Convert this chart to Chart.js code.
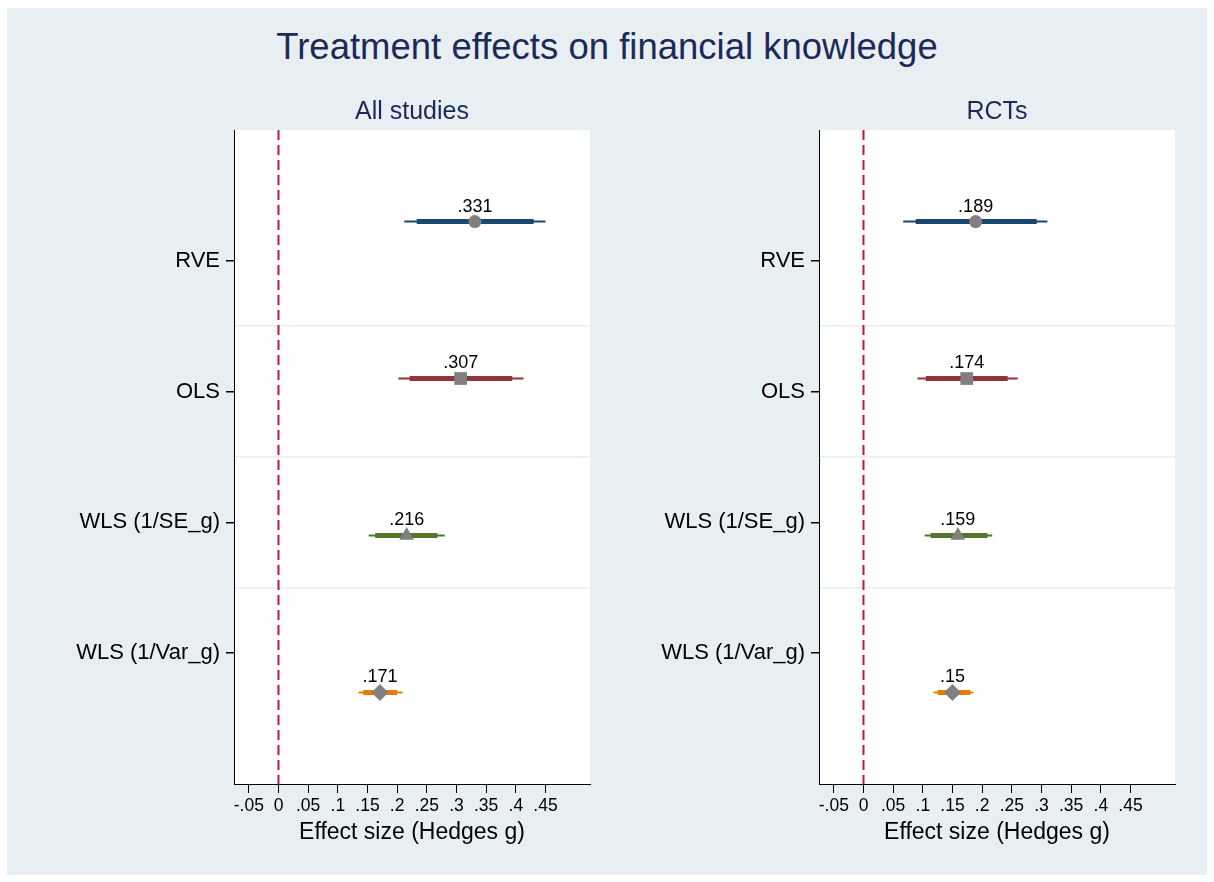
<!DOCTYPE html>
<html>
<head>
<meta charset="utf-8">
<script src="https://cdn.jsdelivr.net/npm/chart.js@4"></script>
<style>
  html, body { margin: 0; padding: 0; background: #fff; }
  #frame { position: absolute; left: 7px; top: 8px; width: 1200px; height: 867px; background: #e8eff2; }
  #title { position: absolute; left: 0; top: 26px; width: 1214px; text-align: center;
           font: 36.5px "Liberation Sans", Arial, sans-serif; color: #1c2a57; }
  .panel { position: absolute; top: 0; width: 607px; height: 882px; }
</style>
</head>
<body>
<div id="frame"></div>
<div id="title">Treatment effects on financial knowledge</div>
<div class="panel" style="left:0"><canvas id="allChart"></canvas></div>
<div class="panel" style="left:607px"><canvas id="rctChart"></canvas></div>

<script>
// estimation methods (rows)
const methods = ['RVE', 'OLS', 'WLS (1/SE_g)', 'WLS (1/Var_g)'];

// All studies
const allEst  = [0.331, 0.307, 0.216, 0.171];
const allLo95 = [0.212, 0.202, 0.152, 0.135];
const allHi95 = [0.450, 0.413, 0.280, 0.209];
const allLo90 = [0.233, 0.221, 0.163, 0.143];
const allHi90 = [0.430, 0.394, 0.268, 0.200];

// RCTs only
const rctEst  = [0.189, 0.174, 0.159, 0.150];
const rctLo95 = [0.067, 0.091, 0.103, 0.118];
const rctHi95 = [0.310, 0.260, 0.217, 0.185];
const rctLo90 = [0.088, 0.105, 0.113, 0.125];
const rctHi90 = [0.292, 0.243, 0.209, 0.180];

// x axis ticks
const xTicks = [-0.05, 0, 0.05, 0.1, 0.15, 0.2, 0.25, 0.3, 0.35, 0.4, 0.45];

const FONT = '"Liberation Sans", Arial, sans-serif';
const ciColors = ['#1a476f', '#90353b', '#55752f', '#e37e00'];
const markerStyles = ['circle', 'rect', 'triangle', 'rectRot'];
const markerSizes = [6.5, 9, 8.5, 8.5];
const rowOffset = [-0.3, -0.1, 0.1, 0.3]; // coefplot-style offsets within each row

function fmt(v) {
  const s = String(Math.round(v * 1000) / 1000);
  return s.replace(/^0\./, '.').replace(/^-0\./, '-.');
}

const plotBg = {
  id: 'plotBg',
  beforeDraw(chart) {
    const { ctx, chartArea: a } = chart;
    ctx.save();
    ctx.fillStyle = '#ffffff';
    ctx.fillRect(a.left, a.top, a.right - a.left, a.bottom - a.top);
    ctx.restore();
  }
};

const valueLabels = {
  id: 'valueLabels',
  afterDatasetsDraw(chart) {
    const ctx = chart.ctx;
    ctx.save();
    ctx.font = '18px ' + FONT;
    ctx.fillStyle = '#000';
    ctx.textAlign = 'center';
    ctx.textBaseline = 'middle';
    chart.data.datasets.forEach((ds, i) => {
      if (!ds.valueLabel) return;
      chart.getDatasetMeta(i).data.forEach((el, j) => {
        ctx.fillText(fmt(ds.data[j].x), el.x, el.y - 15);
      });
    });
    ctx.restore();
  }
};

function makeChart(id, subtitle, est, lo95, hi95, lo90, hi90, yWidth, padRight) {
  const datasets = [{
    data: [{ x: 0, y: 0 }, { x: 0, y: 5 }],
    showLine: true, borderColor: '#c8143c', borderWidth: 2,
    borderDash: [10, 5], pointRadius: 0, order: 3
  }];
  methods.forEach((m, i) => {
    const y = i + 1 + rowOffset[i];
    datasets.push({
      data: [{ x: lo95[i], y: y }, { x: hi95[i], y: y }],
      showLine: true, borderColor: ciColors[i], borderWidth: 2, pointRadius: 0, order: 2
    });
    datasets.push({
      data: [{ x: lo90[i], y: y }, { x: hi90[i], y: y }],
      showLine: true, borderColor: ciColors[i], borderWidth: 5, pointRadius: 0, order: 1
    });
    datasets.push({
      data: [{ x: est[i], y: y }],
      pointStyle: markerStyles[i], pointRadius: markerSizes[i],
      backgroundColor: '#808080', borderColor: '#808080', borderWidth: 0,
      order: 0, valueLabel: true
    });
  });

  return new Chart(document.getElementById(id), {
    type: 'scatter',
    data: { datasets: datasets },
    options: {
      responsive: true,
      maintainAspectRatio: false,
      animation: false,
      events: [],
      layout: { padding: { top: 97, right: padRight, bottom: 28, left: 0 } },
      plugins: {
        legend: { display: false },
        tooltip: { enabled: false },
        title: {
          display: true, text: subtitle, fullSize: false,
          color: '#1c2a57', font: { family: FONT, size: 25, weight: 'normal' },
          padding: { top: 0, bottom: 3 }
        }
      },
      scales: {
        x: {
          type: 'linear', min: -0.075, max: 0.525,
          afterBuildTicks: s => { s.ticks = xTicks.map(v => ({ value: v })); },
          afterFit: s => { s.height = 70; },
          grid: { drawOnChartArea: false, tickLength: 9, tickColor: '#000' },
          border: { color: '#000', width: 1 },
          ticks: {
            color: '#000', font: { family: FONT, size: 17.5 }, padding: 3,
            maxRotation: 0, autoSkip: false, callback: v => fmt(v)
          },
          title: {
            display: true, text: 'Effect size (Hedges g)', color: '#000',
            font: { family: FONT, size: 23 }, padding: { top: 0, bottom: 8 }
          }
        },
        y: {
          type: 'linear', min: 0, max: 5, reverse: true,
          afterBuildTicks: s => { s.ticks = [1, 1.5, 2, 2.5, 3, 3.5, 4].map(v => ({ value: v })); },
          afterFit: s => { s.width = yWidth; },
          grid: {
            drawOnChartArea: true, tickLength: 8, lineWidth: 1.5,
            color: c => (c.tick && !Number.isInteger(c.tick.value)) ? '#e6eef1' : 'rgba(0,0,0,0)',
            tickColor: c => (c.tick && Number.isInteger(c.tick.value)) ? '#000' : 'rgba(0,0,0,0)'
          },
          border: { color: '#000', width: 1 },
          ticks: {
            color: '#000', font: { family: FONT, size: 22 }, padding: 6, autoSkip: false,
            callback: v => Number.isInteger(v) ? methods[v - 1] : ''
          }
        }
      }
    },
    plugins: [plotBg, valueLabels]
  });
}

makeChart('allChart', 'All studies', allEst, allLo95, allHi95, allLo90, allHi90, 234, 17);
makeChart('rctChart', 'RCTs', rctEst, rctLo95, rctHi95, rctLo90, rctHi90, 212, 39);
</script>
</body>
</html>
